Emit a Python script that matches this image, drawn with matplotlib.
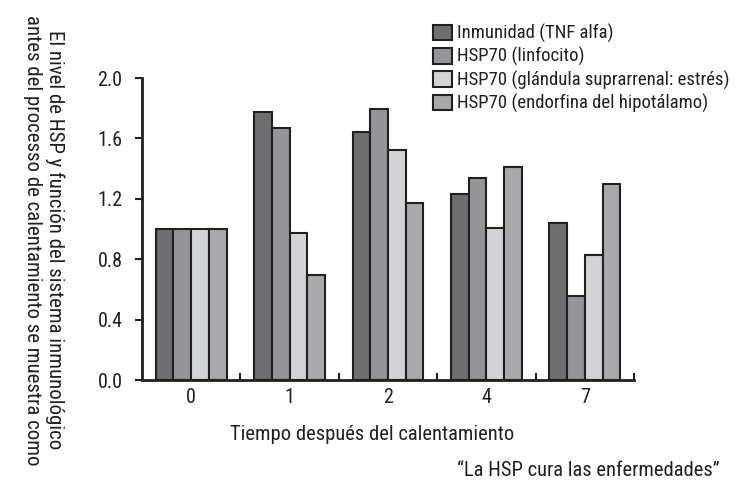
import matplotlib
matplotlib.use("Agg")
import matplotlib.pyplot as plt
from matplotlib.patches import Patch
from matplotlib import font_manager as fm
import numpy as np

names = {f.name for f in fm.fontManager.ttflist}
pref = ['Liberation Sans Narrow', 'Roboto Condensed', 'Open Sans Condensed', 'Roboto']
fam = [n for n in pref if n in names][:1] + ['Liberation Sans', 'DejaVu Sans']
plt.rcParams['font.family'] = fam

categories = ['0', '1', '2', '4', '7']
series = ['Inmunidad (TNF alfa)', 'HSP70 (linfocito)',
          'HSP70 (glándula suprarrenal: estrés)', 'HSP70 (endorfina del hipotálamo)']
tnf = [1.0, 1.775, 1.64, 1.23, 1.04]
linfocito = [1.0, 1.67, 1.795, 1.34, 0.556]
suprarrenal = [1.0, 0.973, 1.523, 1.007, 0.828]
endorfina = [1.0, 0.695, 1.172, 1.41, 1.298]
values = [tnf, linfocito, suprarrenal, endorfina]
colors = ['#6d6e70', '#939598', '#d1d3d4', '#a7a9ac']
yticks = [0.0, 0.4, 0.8, 1.2, 1.6, 2.0]

edge = '#231f20'
txt = '#231f20'
fig = plt.figure(figsize=(7.45, 4.83), dpi=100)
ax = fig.add_axes([142/745, 1-380/483, (634-142)/745, (380-78)/483])

x = np.arange(len(categories))
w = 0.18
for i, (vals, c) in enumerate(zip(values, colors)):
    ax.bar(x + (i - 1.5) * w, vals, w, color=c, edgecolor=edge, linewidth=1.5,
           label=series[i], zorder=2)

ax.set_xlim(-0.5, len(categories) - 0.5)
ax.set_ylim(0, 2.0)
ax.set_yticks(yticks)
ax.set_yticklabels([f'{v:.1f}' for v in yticks], fontsize=14.5, color=txt)
ax.set_xticks(x)
ax.set_xticklabels(categories, fontsize=14.5, color=txt)
ax.set_xticks(np.arange(len(categories)) + 0.5, minor=True)
ax.tick_params(axis='x', which='major', length=0, pad=6)
ax.tick_params(axis='x', which='minor', direction='in', length=5, width=1.5, color=edge)
ax.tick_params(axis='y', direction='out', length=5, width=1.5, color=edge, pad=9)
for s in ['top', 'right']:
    ax.spines[s].set_visible(False)
for s in ['left', 'bottom']:
    ax.spines[s].set_linewidth(2)
    ax.spines[s].set_color(edge)

handles = [Patch(facecolor=c, edgecolor=edge, linewidth=1.5) for c in colors]
fig.legend(handles, series, loc='upper left', bbox_to_anchor=(433/745, 1-24/483),
           frameon=False, fontsize=13.5, handlelength=1.0, handleheight=0.9,
           handletextpad=0.3, labelspacing=0.22, borderaxespad=0, borderpad=0,
           labelcolor=txt)

fig.text(372/745, 1-435/483, 'Tiempo después del calentamiento', ha='center', va='center',
         fontsize=14.8, color=txt)
fig.text(588/745, 1-470/483, '“La HSP cura las enfermedades”', ha='center', va='center',
         fontsize=14.8, color=txt)
fig.text(44/745, 1-240/483,
         'El nivel de HSP y función del sistema inmunológico\nantes del processo de calentamiento se muestra como',
         rotation=-90, ha='center', va='center', fontsize=15, linespacing=1.2, color=txt)

fig.savefig('out.png', dpi=100)
